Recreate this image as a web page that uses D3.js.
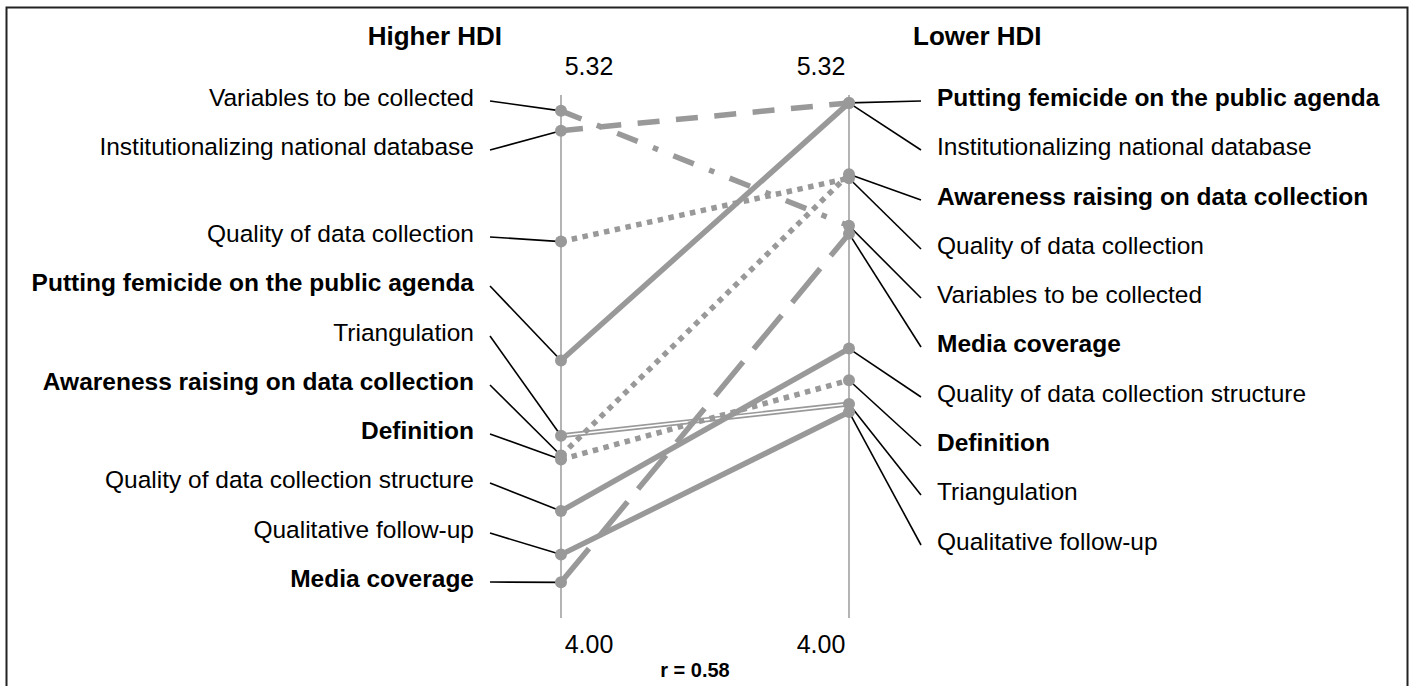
<!DOCTYPE html>
<html>
<head>
<meta charset="utf-8">
<script src="https://cdn.jsdelivr.net/npm/d3@7"></script>
<style>
  body { margin: 0; background: #fff; }
  text { font-family: "Liberation Sans", Arial, sans-serif; fill: #000; }
</style>
</head>
<body>
<div id="chart"></div>
<script>
// Data: mean scores per group (scale 4.00 - 5.32)
const groups = ["Higher HDI", "Lower HDI"];
const scaleEnds = [4.00, 5.32];
const categories = [
    "Variables to be collected",
    "Institutionalizing national database",
    "Quality of data collection",
    "Putting femicide on the public agenda",
    "Triangulation",
    "Awareness raising on data collection",
    "Definition",
    "Quality of data collection structure",
    "Qualitative follow-up",
    "Media coverage"
];
const higherValues = [5.28, 5.23, 4.95, 4.65, 4.46, 4.41, 4.40, 4.27, 4.16, 4.09];
const lowerValues  = [4.99, 5.30, 5.11, 5.30, 4.54, 5.12, 4.60, 4.68, 4.52, 4.97];
const boldCategories = [
    "Putting femicide on the public agenda",
    "Awareness raising on data collection",
    "Definition",
    "Media coverage"
];
const correlationText = "r = 0.58";

// Line style per category
const lineStyle = {
    "Variables to be collected": "dashdot",
    "Institutionalizing national database": "dash",
    "Quality of data collection": "dot",
    "Putting femicide on the public agenda": "solid",
    "Triangulation": "double",
    "Awareness raising on data collection": "dot",
    "Definition": "dot",
    "Quality of data collection structure": "solid",
    "Qualitative follow-up": "solid",
    "Media coverage": "longdash"
};
const dashes = {
    solid: null,
    dot: "5.5,5.5",
    dash: "22,16.5",
    longdash: "44,16.5",
    dashdot: "22,16.5,5.5,16.5"
};

// Label baselines (manual label layout, as in the original)
const leftLabelY = [106, 155, 242, 291, 341, 390, 439, 488, 538, 587];
const rightLabelY = {
    "Putting femicide on the public agenda": 106,
    "Institutionalizing national database": 155,
    "Awareness raising on data collection": 205,
    "Quality of data collection": 254,
    "Variables to be collected": 303,
    "Media coverage": 352,
    "Quality of data collection structure": 402,
    "Definition": 451,
    "Triangulation": 500,
    "Qualitative follow-up": 550
};

const width = 1411, height = 686;
const grey = "#999999";

const svg = d3.select("#chart")
    .append("svg")
    .attr("width", width)
    .attr("height", height);

// Frame
svg.append("rect")
    .attr("x", 6.5).attr("y", 7.5)
    .attr("width", 1401).attr("height", 720)
    .attr("fill", "none")
    .attr("stroke", "#222")
    .attr("stroke-width", 2);

const x = d3.scalePoint().domain(groups).range([561, 849]);
const y = d3.scaleLinear().domain(scaleEnds).range([618, 95]);

const rows = categories.map((c, i) => ({
    name: c,
    hi: higherValues[i],
    lo: lowerValues[i],
    bold: boldCategories.includes(c),
    style: lineStyle[c]
}));

// Axes
groups.forEach(g => {
    svg.append("line")
        .attr("x1", x(g)).attr("x2", x(g))
        .attr("y1", y.range()[1]).attr("y2", y.range()[0])
        .attr("stroke", "#b4b4b4")
        .attr("stroke-width", 2);
});

// Group titles
svg.append("text")
    .attr("x", 502).attr("y", 45)
    .attr("text-anchor", "end")
    .attr("font-size", "26px").attr("font-weight", "bold")
    .text(groups[0]);
svg.append("text")
    .attr("x", 913).attr("y", 45)
    .attr("text-anchor", "start")
    .attr("font-size", "26px").attr("font-weight", "bold")
    .text(groups[1]);

// Scale end labels
const fmt = d3.format(".2f");
groups.forEach((g, gi) => {
    const dx = gi === 0 ? 28 : -28;
    svg.append("text")
        .attr("x", x(g) + dx).attr("y", 75)
        .attr("text-anchor", "middle")
        .attr("font-size", "25px")
        .text(fmt(scaleEnds[1]));
    svg.append("text")
        .attr("x", x(g) + dx).attr("y", 653)
        .attr("text-anchor", "middle")
        .attr("font-size", "25px")
        .text(fmt(scaleEnds[0]));
});

svg.append("text")
    .attr("x", 695).attr("y", 677)
    .attr("text-anchor", "middle")
    .attr("font-size", "20px").attr("font-weight", "bold")
    .text(correlationText);

// Leader lines
const leaders = svg.append("g").attr("stroke", "#000").attr("stroke-width", 1.6);
rows.forEach((d, i) => {
    leaders.append("line")
        .attr("x1", 490).attr("y1", leftLabelY[i] - 5)
        .attr("x2", x(groups[0])).attr("y2", y(d.hi));
    leaders.append("line")
        .attr("x1", x(groups[1])).attr("y1", y(d.lo))
        .attr("x2", 921).attr("y2", rightLabelY[d.name] - 5);
});

// Labels
rows.forEach((d, i) => {
    svg.append("text")
        .attr("x", 474).attr("y", leftLabelY[i])
        .attr("text-anchor", "end")
        .attr("font-size", "24.5px")
        .attr("font-weight", d.bold ? "bold" : "normal")
        .text(d.name);
    svg.append("text")
        .attr("x", 937).attr("y", rightLabelY[d.name])
        .attr("text-anchor", "start")
        .attr("font-size", "24.5px")
        .attr("font-weight", d.bold ? "bold" : "normal")
        .text(d.name);
});

// Slope lines
const slopes = svg.append("g");
rows.forEach(d => {
    const line = () => slopes.append("line")
        .attr("x1", x(groups[0])).attr("y1", y(d.hi))
        .attr("x2", x(groups[1])).attr("y2", y(d.lo));
    if (d.style === "double") {
        line().attr("stroke", grey).attr("stroke-width", 5);
        line().attr("stroke", "#fff").attr("stroke-width", 1.6);
    } else {
        line().attr("stroke", grey)
            .attr("stroke-width", 5.5)
            .attr("stroke-linecap", "butt")
            .attr("stroke-dasharray", dashes[d.style]);
    }
});

// Points
const pts = svg.append("g").attr("fill", grey);
rows.forEach(d => {
    pts.append("circle").attr("cx", x(groups[0])).attr("cy", y(d.hi)).attr("r", 6);
    pts.append("circle").attr("cx", x(groups[1])).attr("cy", y(d.lo)).attr("r", 6);
});
</script>
</body>
</html>
